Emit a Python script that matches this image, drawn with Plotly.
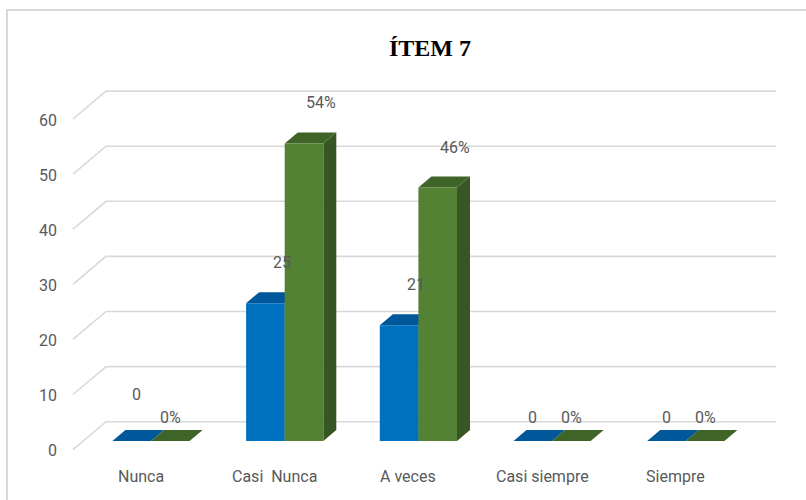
import plotly.graph_objects as go

# ---- data ----
categories = ["Nunca", "Casi\u00a0 Nunca", "A veces", "Casi siempre", "Siempre"]
counts = [0, 25, 21, 0, 0]          # blue series (frequency)
percents = [0, 54, 46, 0, 0]        # green series (%)
y_ticks = [0, 10, 20, 30, 40, 50, 60]
title_text = "ÍTEM 7"

# ---- geometry / style ----
W, H = 806, 500
ML, MR, MT, MB = 40, 6, 12, 10
PX_X = 133.7      # px per category
PX_Y = 5.51       # px per value unit
C0_PX = 151       # px of first category centre
Y0_PX = 441       # px of value 0 at bar front
plot_w = W - ML - MR
plot_h = H - MT - MB
x_range = [(ML - C0_PX) / PX_X, (ML + plot_w - C0_PX) / PX_X]
y_range = [(Y0_PX - (MT + plot_h)) / PX_Y, (Y0_PX - MT) / PX_Y]

BAR_W = 38.6 / PX_X
DX = 13 / PX_X
DY = 11 / PX_Y
WALL_FX, WALL_BX, WALL_RX = (73 - C0_PX) / PX_X, (106 - C0_PX) / PX_X, (776 - C0_PX) / PX_X
WALL_FY, WALL_BY = -8.6 / PX_Y, 19.3 / PX_Y

BLUE = dict(front="#0070C0", top="#00589A", side="#004C87")
GREEN = dict(front="#548235", top="#3F6428", side="#375623")
GRID = "#D9D9D9"
TXT = "#595959"
FONT = "Roboto, Liberation Sans, sans-serif"

fig = go.Figure()

# back wall + side wall grid
gx, gy = [], []
for v in y_ticks:
    gx += [WALL_FX, WALL_BX, WALL_RX, None]
    gy += [v + WALL_FY, v + WALL_BY, v + WALL_BY, None]
fig.add_trace(go.Scatter(x=gx, y=gy, mode="lines", line=dict(color=GRID, width=1.6),
                         hoverinfo="skip", showlegend=False))


def poly(xs, ys, color):
    fig.add_trace(go.Scatter(x=xs + [xs[0]], y=ys + [ys[0]], mode="lines", fill="toself",
                             fillcolor=color, line=dict(width=0, color=color),
                             hoverinfo="skip", showlegend=False))


def bar3d(x0, v, col):
    x1 = x0 + BAR_W
    # side
    poly([x1, x1 + DX, x1 + DX, x1], [0, DY, v + DY, v], col["side"])
    # top
    poly([x0, x1, x1 + DX, x0 + DX], [v, v, v + DY, v + DY], col["top"])
    # front
    if v > 0:
        poly([x0, x1, x1, x0], [0, 0, v, v], col["front"])


for i in range(len(categories)):
    bar3d(i - BAR_W, counts[i], BLUE)
    bar3d(i, percents[i], GREEN)

ann = []
# data labels
for i in range(len(categories)):
    for j, (x0, v, txt) in enumerate([(i - BAR_W, counts[i], str(counts[i])),
                                      (i, percents[i], f"{percents[i]}%")]):
        # Excel lifts the first zero label of the first series above the wall line
        lift = 23 if (i == 0 and j == 0 and v == 0) else 0
        ann.append(dict(x=x0 + BAR_W / 2, y=v + DY, text=txt, showarrow=False,
                        xanchor="center", yanchor="bottom",
                        xshift=17 if v > 0 else (5 if lift else 0),
                        yshift=(18 if v > 0 else 1) + lift,
                        font=dict(family=FONT, size=16, color=TXT)))
# category labels
for i, c in enumerate(categories):
    ann.append(dict(x=i, y=-35.7 / PX_Y, text=c, showarrow=False, xanchor="center",
                    yanchor="middle", xshift=-10,
                    font=dict(family=FONT, size=16, color=TXT)))
# value axis labels
for v in y_ticks:
    ann.append(dict(x=WALL_FX, y=v + WALL_FY, text=str(v), showarrow=False,
                    xanchor="right", yanchor="middle", xshift=-14, yshift=-1,
                    font=dict(family=FONT, size=16, color=TXT)))
# title
ann.append(dict(xref="paper", yref="paper", x=(430 - ML) / plot_w,
                y=(MT + plot_h - 48) / plot_h, text=f"<b>{title_text}</b>",
                showarrow=False, xanchor="center", yanchor="middle",
                font=dict(family="Liberation Serif, Times New Roman, serif", size=24,
                          color="#000000")))

fig.update_layout(
    width=W, height=H, margin=dict(l=ML, r=MR, t=MT, b=MB),
    paper_bgcolor="white", plot_bgcolor="white", showlegend=False,
    xaxis=dict(range=x_range, visible=False, fixedrange=True),
    yaxis=dict(range=y_range, visible=False, fixedrange=True),
    annotations=ann,
    shapes=[dict(type="rect", xref="paper", yref="paper",
                 x0=(7 - ML) / plot_w, x1=1.05, y0=-0.05, y1=(MT + plot_h - 10) / plot_h,
                 line=dict(color=GRID, width=2), layer="below")],
)

fig.write_html("out.html")
